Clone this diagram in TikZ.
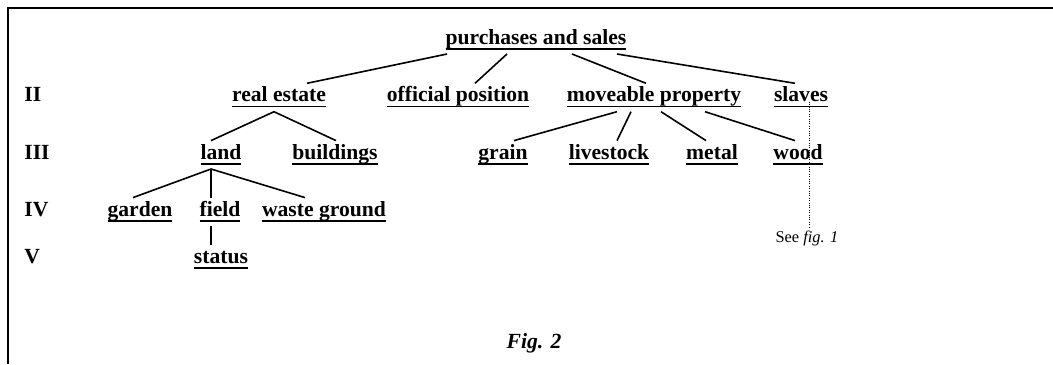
\documentclass[tikz,border=0pt]{standalone}
\usepackage{fontspec}
\setmainfont{Liberation Serif}
\newcommand\ulw[1]{\setbox0\hbox{#1}\rlap{\rule[-2.8pt]{\wd0}{0.8pt}}\box0}
\tikzset{
 term/.style={font=\fontsize{10.8}{13}\selectfont\bfseries, anchor=base,
   inner xsep=0pt, inner ysep=2pt, text height=7pt, text depth=2.8pt},
 lvl/.style={font=\fontsize{10.8}{13}\selectfont\bfseries, anchor=base west, inner sep=0pt},
 link/.style={line width=0.8pt},
}
\begin{document}
\begin{tikzpicture}[x=0.5pt,y=-0.5pt]
\useasboundingbox (0,0) rectangle (1053,364);
\draw[line width=1pt] (1053,8) -- (8,8) -- (8,364); % open frame
% levels
\foreach \lv/\yy in {II/101.7,III/159,IV/216,V/263}
 \node[lvl] (lv\lv) at (24,\yy) {\lv};
% terms
\node[term] (ps) at (536,44) {\ulw{purchases and sales}};
\node[term] (realestate) at (279,101.7) {\ulw{real estate}};
\node[term] (offpos) at (458,101.7) {\ulw{official position}};
\node[term] (movable) at (654,101.7) {\ulw{moveable property}};
\node[term] (slaves) at (801,101.7) {\ulw{slaves}};
\node[term] (land) at (221,159) {\ulw{land}};
\node[term] (build) at (335,159) {\ulw{buildings}};
\node[term] (grain) at (503,159) {\ulw{grain}};
\node[term] (livestock) at (609,159) {\ulw{livestock}};
\node[term] (metal) at (712,159) {\ulw{metal}};
\node[term] (wood) at (798,159) {\ulw{wood}};
\node[term] (garden) at (140,216) {\ulw{garden}};
\node[term] (field) at (220,216) {\ulw{field}};
\node[term] (waste) at (324,216) {\ulw{waste ground}};
\node[term] (status) at (221,263) {\ulw{status}};
\node[font=\fontsize{8.2}{10}\selectfont, anchor=base, inner sep=1pt] (seefig) at (807,242) {See \textit{fig. 1}};
\node[font=\fontsize{10.8}{13}\selectfont\bfseries\itshape, anchor=base, inner sep=0pt] (figcap) at (534,348) {Fig. 2};
% connectors
\foreach \s/\a/\t/\b in {ps/-44.5pt/realestate/14pt, ps/-14.5pt/offpos/8.5pt,
  ps/18pt/movable/-4pt, ps/40.5pt/slaves/-3pt,
  realestate/-2.5pt/land/-5pt, realestate/-2.5pt/build/0.5pt,
  land/-5pt/garden/-3.5pt, land/-5pt/field/-4.5pt, land/-5pt/waste/-9.5pt,
  field/-4.5pt/status/-5pt,
  movable/-18.5pt/grain/5.5pt, movable/-11.5pt/livestock/4pt,
  movable/3.5pt/metal/-3pt, movable/25.5pt/wood/-1.5pt}
 \draw[link] ([xshift=\a]\s.south) -- ([xshift=\b]\t.north);
\draw[line width=0.4pt, dash pattern=on 0.4pt off 0.8pt] ([xshift=4pt]slaves.base) -- ([xshift=1pt]seefig.north);
\end{tikzpicture}
\end{document}
